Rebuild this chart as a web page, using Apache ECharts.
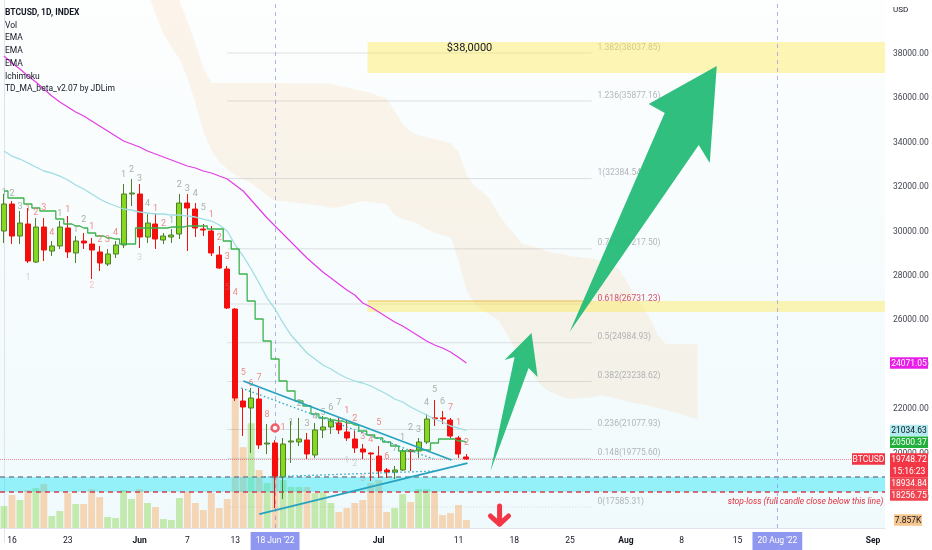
<!DOCTYPE html>
<html>
<head>
<meta charset="utf-8">
<title>BTCUSD 1D</title>
<script src="https://cdn.jsdelivr.net/npm/echarts@6.0.0/dist/echarts.min.js"></script>
<style>
html,body{margin:0;padding:0;background:#fff;}
#chart{width:932px;height:550px;}
</style>
</head>
<body>
<div id="chart"></div>
<script>
const FONT = 'Roboto, "Liberation Sans", Arial, sans-serif';

// ---------- categories (daily, 15 May 2022 .. 2 Sep 2022) ----------
const dates = [];
(function () {
  const t0 = Date.UTC(2022, 4, 15);
  for (let i = 0; i < 111; i++) dates.push(new Date(t0 + i * 86400000).toISOString().slice(0, 10));
})();

// ---------- candles [open, close, low, high] from 15 May to 12 Jul ----------
const candles = [
  [30020,31236,29479,31687],[31236,29794,29434,31371],[29794,30380,29434,30921],[30335,28668,28578,31056],
  [28623,30200,28578,30605],[30200,29164,28668,30605],[29119,29344,28893,29569],[29344,30200,29209,30470],
  [30155,29074,28803,30695],[29029,29569,28578,29794],[29569,29479,29209,29930],[29434,29164,27857,29704],
  [29074,28578,28218,29344],[28533,28983,28443,29209],[28983,29389,28803,29569],[29389,31687,29254,32137],
  [31687,31732,31146,32362],[31687,29749,29254,32137],[29749,30380,29479,30785],[30335,29659,29209,30830],
  [29614,29794,29434,29930],[29749,29839,29479,30110],[29884,31281,29659,31687],[31281,31056,29119,31687],
  [31011,30155,29749,31281],[30110,30065,29794,30335],[30020,29029,28893,30245],[28938,28353,28308,29344],
  [28308,26551,26506,28443],[26506,22496,22361,26551],[22361,22091,20785,22902],[22046,22496,20019,22947],
  [22451,20379,20199,22947],[20424,20470,19974,21325],[20470,18937,17541,20600],[18937,20424,17946,20695],
  [20515,20560,19568,21460],[20515,20650,20334,21595],[20605,19974,19748,20920],[19929,21055,19793,21370],
  [21055,21190,20695,21685],[21190,21460,20875,21595],[21370,21055,20875,21595],[20965,20695,20560,21460],
  [20650,20245,20019,21010],[20199,20064,19748,20424],[20019,19974,18757,20050],[19884,19208,18892,20334],
  [19253,19163,18892,19343],[19163,19253,18847,19434],[19253,20110,19208,20199],[20150,20080,19208,20199],
  [20110,20515,19793,20695],[20515,21550,20424,21776],[21600,21560,21235,22406],[21600,21560,21325,21911],
  [21505,20785,20695,21595],[20695,19974,19793,20785],[19839,19748.72,19703,19974]
];

// volume in thousands
const volumes = [21.6,32.4,27.5,37.3,39.3,43.2,11.8,16.7,34.4,23.6,23.6,38.3,30.4,10.8,9.8,37.3,28.5,38.3,24.6,20.6,
  8.8,7.9,29.5,35.4,24.6,17.7,34.4,19.6,28.5,128.6,79.5,103.1,57.0,44.2,71.7,47.1,40.3,40.3,40.3,34.4,
  35.4,24.6,15.7,19.6,24.6,27.5,44.2,47.1,15.7,19.6,33.4,25.5,38.3,38.3,36.3,12.8,14.7,22.6,7.857];

const emaSlow = [37903,37588,37318,37002,36732,36417,36101,35831,35606,35381,35200,34975,34750,34525,34300,34074,33939,33804,33624,33489,
  33354,33218,33083,32948,32858,32723,32633,32497,32362,32092,31822,31416,31011,30605,30245,29884,29524,29164,28803,28488,
  28173,27902,27632,27362,27136,26776,26596,26371,26145,25920,25740,25515,25290,25064,24884,24749,24569,24330,24071.05];
const emaFast = [33624,33398,33263,33083,32903,32723,32632,32497,32317,32092,31912,31687,31461,31281,31146,31011,30966,30876,30831,30786,
  30786,30740,30740,30695,30650,30560,30470,30290,30020,29389,28893,28308,27677,27001,26506,25875,25334,24929,24523,24253,
  23983,23803,23578,23397,23262,23172,23037,22857,22677,22451,22316,22091,21911,21731,21550,21415,21235,21145,21034.63];
const tdLine = [31822,31506,31506,31236,31056,30921,30921,30560,30335,30245,30155,29930,29794,29704,29659,29434,29434,30155,30155,30155,
  30155,30200,30200,30245,30245,30245,30110,30110,29569,29209,28082,26866,26055,25064,24253,23262,22812,22361,22136,21776,
  21595,21505,21460,21370,21280,21010,20830,20695,20515,20334,20109,20109,20154,20154,20469,20649,20649,20560,20500.37];

// Ichimoku cloud (category index of first point, then the two spans)
const cloudStart = 18;
const cloudUpper = [42500,42000,41500,41000,40381,39480,38489,37363,36687,36687,
  36687,36687,36687,36687,36687,36687,36687,36687,36665,36665,
  36665,36665,36665,36665,36552,36484,36417,36327,36237,36101,
  36011,35426,34840,34480,34345,34255,34164,34074,33984,33579,
  32588,32047,31777,31416,30786,30290,29885,29434,29344,29254,
  29119,29029,28984,28894,28849,28803,28758,28668,28488,28353,
  27812,27182,26641,26100,25334,24929,24929,24929,24929,24929];
const cloudLower = [40800,39796,38895,38309,37768,36958,35786,34525,33669,33128,
  32813,32542,32362,32182,31912,31596,31371,31371,31326,31281,
  31236,31191,31146,31056,31101,31191,31281,31371,31326,31281,
  31236,30740,30560,30470,30335,30110,29930,29840,29750,28713,
  27362,26731,26461,26235,26010,25425,24794,24298,23758,23217,
  22857,22722,22541,22451,22496,22496,22541,22632,22541,22451,
  22361,22271,22226,22136,22046,21956,21866,21776,21641,21550];

// TD sequential counts [date, price, text, kind]
const tdMarks = [
  ['2022-05-15',31732,'1','g'],['2022-05-16',31687,'2','g'],['2022-05-17',31101,'3','g'],['2022-05-18',31011,'1','r'],
  ['2022-05-19',30831,'2','r'],['2022-05-20',31056,'3','r'],['2022-05-21',29930,'4','r'],['2022-05-22',30786,'1','g'],
  ['2022-05-23',30966,'1','r'],['2022-05-24',30065,'1','g'],['2022-05-25',30515,'2','g'],['2022-05-26',30200,'1','r'],
  ['2022-05-27',29614,'2','r'],['2022-05-28',29614,'3','r'],['2022-05-29',29930,'4','r'],['2022-05-30',32543,'1','g'],
  ['2022-05-31',32768,'2','g'],['2022-06-01',32362,'3','g'],['2022-06-02',31236,'4','g'],['2022-06-03',31011,'1','r'],
  ['2022-06-04',30335,'2','r'],['2022-06-05',30470,'1','g'],['2022-06-06',32092,'2','g'],['2022-06-07',31912,'3','g'],
  ['2022-06-08',31687,'4','g'],['2022-06-09',31056,'5','g'],['2022-06-10',30741,'1','r'],['2022-06-11',29704,'2','r'],
  ['2022-06-12',28848,'3','r'],['2022-06-13',27227,'4','r'],['2022-06-14',23623,'5','r'],['2022-06-15',23127,'6','r'],
  ['2022-06-16',23397,'7','r'],['2022-06-17',21731,'8','r'],['2022-06-19',21145,'1','r'],['2022-06-20',21370,'1','g'],
  ['2022-06-21',22226,'2','g'],['2022-06-22',21325,'3','g'],['2022-06-23',21640,'4','g'],['2022-06-24',21820,'5','g'],
  ['2022-06-25',22046,'6','g'],['2022-06-26',22271,'7','g'],['2022-06-27',21911,'1','r'],['2022-06-28',21550,'2','r'],
  ['2022-06-29',20740,'3','r'],['2022-06-30',20605,'4','r'],['2022-07-01',21370,'5','r'],['2022-07-02',19838,'6','r'],
  ['2022-07-03',20199,'7','g'],['2022-07-04',20695,'1','g'],['2022-07-05',21145,'2','g'],['2022-07-06',21055,'3','g'],
  ['2022-07-07',22271,'4','g'],['2022-07-08',22857,'5','g'],['2022-07-09',22316,'6','g'],['2022-07-10',22046,'7','r'],
  ['2022-07-11',21370,'1','r'],['2022-07-12',20470,'2','r'],
  ['2022-05-18',27902,'1','lg'],['2022-05-26',27542,'2','lr'],['2022-06-01',28803,'3','lg'],['2022-06-12',27452,'5','lg'],
  ['2022-06-27',19658,'1','lg'],['2022-06-28',19523,'2','lg'],['2022-06-29',18847,'3','lr']
];
const tdNine = [['2022-06-18',21145]];

// Fibonacci levels
const fibRatios = ['1.382','1.236','1','0.786','0.618','0.5','0.382','0.236','0.148','0'];
const fibPrices = [38037.85,35877.16,32384.54,29217.50,26731.23,24984.93,23238.62,21077.93,19775.60,17585.31];
const fibSpan = [28, 73.7];

// zones [fromIdx, toIdx, low, high]
const yellowZones = [[45.6,110.5,37138,38535],[45.6,110.5,26371,26866]];
const keyLevelLine = [45.6, 73.7, 26866];
const supportLevels = [18934.84, 18256.75];

// trend lines [x1, p1, x2, p2, style]
const trendLines = [
  [30.01,23262,56.13,19703,'solid'],
  [29.76,22946,53.87,19748,'dotted'],
  [32.02,17270,58.14,19567,'solid'],
  [32.65,18937,53.99,19207,'dotted']
];

// arrows (polygon points as [index, price])
const arrowShapes = [
  [[61.02,19207],[64.04,24343],[62.78,24208],[66.17,25424],[66.93,23442],[65.80,23847]],
  [[70.94,25469],[82.87,35336],[80.86,35741],[89.40,37454],[88.52,33083],[87.14,33894]]
];
const downArrowPaths = [
  [[62.16,17630],[62.16,16819]],
  [[61.02,17180],[62.16,16819],[63.28,17180]]
];

const noteTexts = ['$38,0000', 'stop-loss (full candle close below this line)'];
const noteAnchors = [[58.39,38264],[110.3,17810]];

const crosshairDates = ['2022-06-18','2022-08-20'];
const xTickDates = ['2022-05-16','2022-05-23','2022-06-01','2022-06-07','2022-06-13','2022-06-18','2022-07-01','2022-07-11',
  '2022-07-18','2022-07-25','2022-08-01','2022-08-08','2022-08-15','2022-08-20','2022-09-01'];
const xTickLabels = ['16','23','Jun','7','13',"18 Jun '22",'Jul','11','18','25','Aug','8','15',"20 Aug '22",'Sep'];
const xTickKinds = ['n','n','b','n','n','h','b','n','n','n','b','n','n','h','b'];

const legendLines = ['BTCUSD, 1D, INDEX','Vol','EMA','EMA','EMA','Ichimoku','TD_MA_beta_v2.07 by JDLim'];
const countdown = '15:16:23';

// ---------- chart ----------
const chart = echarts.init(document.getElementById('chart'));
const markColors = {g:'#939e93', r:'#ef6b6b', lg:'rgba(150,156,150,0.5)', lr:'rgba(239,107,107,0.5)'};
const lastClose = candles[candles.length - 1][1];

function txtStyle(o) {
  const s = Object.assign({}, o);
  if (o.align) { s.textAlign = o.align; }
  if (o.verticalAlign) { s.textVerticalAlign = o.verticalAlign; }
  return s;
}

const option = {
  animation: false,
  backgroundColor: '#ffffff',
  grid: [
    {left: -1, right: 47, top: 0, bottom: 7.8, show: false},
    {left: -1, right: 47, top: 0, bottom: 21, show: true, borderWidth: 0,
      backgroundColor: new echarts.graphic.LinearGradient(0, 0, 0, 1, [
        {offset: 0, color: '#fdfefe'}, {offset: 1, color: '#f0fafc'}])}
  ],
  xAxis: [
    {type: 'category', gridIndex: 0, data: dates, show: false},
    {type: 'value', gridIndex: 0, min: -0.5, max: 110.5, show: false},
    {type: 'category', gridIndex: 1, data: dates,
      axisLine: {show: true, lineStyle: {color: '#e0e3eb'}}, axisTick: {show: false}, splitLine: {show: false},
      axisLabel: {
        margin: 4, fontSize: 8.5, fontFamily: FONT, color: '#131722',
        interval: (i, v) => xTickDates.indexOf(v) >= 0,
        formatter: (v) => {
          const k = xTickDates.indexOf(v);
          if (k < 0) return '';
          return '{' + xTickKinds[k] + '|' + xTickLabels[k] + '}';
        },
        rich: {
          n: {fontSize: 8.5, fontFamily: FONT, color: '#131722', padding: [4, 0, 5, 0]},
          b: {fontSize: 8.5, fontFamily: FONT, color: '#131722', fontWeight: 'bold', padding: [4, 0, 5, 0]},
          h: {fontSize: 8.5, fontFamily: FONT, color: '#ffffff', backgroundColor: '#8f97f0', padding: [4, 5, 5, 5]}
        }
      }}
  ],
  yAxis: [
    {type: 'value', gridIndex: 0, position: 'right', min: 16000, max: 40427, interval: 2000,
      axisLine: {show: true, lineStyle: {color: '#e0e3eb'}}, axisTick: {show: false}, splitLine: {show: false},
      axisLabel: {margin: 8, fontSize: 8.5, fontFamily: FONT, color: '#434651', showMaxLabel: false, showMinLabel: false,
        formatter: (v) => (v > 39000 || v < 17000) ? '' : v.toFixed(2)}},
    {type: 'value', gridIndex: 1, min: 0, max: 519.5, show: false}
  ],
  series: [
    {
      name: 'Vol', type: 'bar', xAxisIndex: 2, yAxisIndex: 1, z: 1, silent: true, barWidth: '86%',
      data: volumes.map((v, i) => ({value: v, itemStyle: {color: candles[i][1] >= candles[i][0] ? 'rgba(140,212,80,0.45)' : 'rgba(248,168,96,0.45)'}})),
      markLine: {silent: true, symbol: ['none', 'none'], label: {show: false},
        lineStyle: {type: [4, 4], width: 1},
        data: [
          {xAxis: crosshairDates[0], lineStyle: {color: 'rgba(110,130,190,0.55)', type: [4, 4], width: 1}},
          {xAxis: crosshairDates[1], lineStyle: {color: 'rgba(140,146,240,0.7)', type: [4, 4], width: 1}}
        ]}
    },
    {
      name: 'Ichimoku', type: 'custom', xAxisIndex: 1, yAxisIndex: 0, z: 1, clip: true, silent: true,
      data: [[0, 30000]],
      renderItem: (params, api) => {
        const pts = [];
        cloudUpper.forEach((v, k) => pts.push(api.coord([cloudStart + k, v])));
        for (let k = cloudLower.length - 1; k >= 0; k--) pts.push(api.coord([cloudStart + k, cloudLower[k]]));
        return {type: 'polygon', shape: {points: pts}, style: {fill: 'rgba(248,185,110,0.14)'}};
      }
    },
    {
      name: 'Fib', type: 'custom', xAxisIndex: 1, yAxisIndex: 0, z: 2, clip: true, silent: true,
      data: fibPrices.map((p, k) => [k, p]),
      renderItem: (params, api) => {
        const k = params.dataIndex, p = fibPrices[k];
        const a = api.coord([fibSpan[0], p]), b = api.coord([fibSpan[1], p]);
        const lab = api.coord([fibSpan[1] + 0.75, p]);
        const key = fibRatios[k] === '0.618';
        return {type: 'group', children: [
          {type: 'line', shape: {x1: a[0], y1: a[1], x2: b[0], y2: b[1]},
            style: {stroke: 'rgba(140,143,150,0.25)', lineWidth: 1, lineDash: fibRatios[k] === '0' ? [1, 2] : null}},
          {type: 'text', style: txtStyle({text: fibRatios[k] + '(' + p.toFixed(2) + ')', x: lab[0], y: a[1] - 1,
            fill: key ? '#d0546a' : 'rgba(140,143,152,0.65)', font: '8.5px ' + FONT, align: 'left', verticalAlign: 'bottom'})}
        ]};
      }
    },
    {
      name: 'Zones', type: 'custom', xAxisIndex: 1, yAxisIndex: 0, z: 2, clip: true, silent: true,
      data: yellowZones.map((z, k) => [k, z[2]]),
      renderItem: (params, api) => {
        const z = yellowZones[params.dataIndex];
        const a = api.coord([z[0], z[3]]), b = api.coord([z[1], z[2]]);
        const children = [{type: 'rect', shape: {x: a[0], y: a[1], width: b[0] - a[0], height: b[1] - a[1]},
          style: {fill: 'rgba(255,232,70,0.4)'}}];
        if (params.dataIndex === 1) {
          const p = api.coord([keyLevelLine[0], keyLevelLine[2]]), q = api.coord([keyLevelLine[1], keyLevelLine[2]]);
          children.push({type: 'line', shape: {x1: p[0], y1: p[1], x2: q[0], y2: q[1]}, style: {stroke: 'rgba(232,172,50,0.75)', lineWidth: 1.2}});
        }
        return {type: 'group', children};
      }
    },
    {
      name: 'Support', type: 'custom', xAxisIndex: 1, yAxisIndex: 0, z: 3, clip: true, silent: true,
      data: [[0, supportLevels[0]]],
      renderItem: (params, api) => {
        const a = api.coord([-0.5, supportLevels[0]]), b = api.coord([110.5, supportLevels[1]]);
        return {type: 'group', children: [
          {type: 'rect', shape: {x: a[0], y: a[1], width: b[0] - a[0], height: b[1] - a[1]}, style: {fill: 'rgba(0,226,245,0.38)'}},
          {type: 'line', shape: {x1: a[0], y1: a[1], x2: b[0], y2: a[1]}, style: {stroke: '#80838f', lineWidth: 1.5, lineDash: [5, 4]}},
          {type: 'line', shape: {x1: a[0], y1: b[1], x2: b[0], y2: b[1]}, style: {stroke: '#d23f4c', lineWidth: 1.5, lineDash: [5, 4]}}
        ]};
      }
    },
    {
      name: 'BTCUSD', type: 'candlestick', xAxisIndex: 0, yAxisIndex: 0, z: 5, silent: true, barWidth: 5.5,
      data: candles,
      itemStyle: {color: '#86d81e', color0: '#f40f0f', borderColor: '#4f7f2a', borderColor0: '#f40f0f', borderWidth: 1},
      markLine: {silent: true, symbol: ['none', 'none'], label: {show: false},
        lineStyle: {color: 'rgba(242,54,69,0.55)', type: 'dotted', width: 1},
        data: [{yAxis: lastClose}]}
    },
    {name: 'EMA slow', type: 'line', xAxisIndex: 0, yAxisIndex: 0, z: 6, silent: true, symbol: 'none',
      data: emaSlow, lineStyle: {color: '#e23de6', width: 1.2}},
    {name: 'EMA fast', type: 'line', xAxisIndex: 0, yAxisIndex: 0, z: 6, silent: true, symbol: 'none',
      data: emaFast, lineStyle: {color: '#9fdde2', width: 1.3}},
    {name: 'TD_MA', type: 'line', xAxisIndex: 0, yAxisIndex: 0, z: 6, silent: true, symbol: 'none', step: 'middle',
      data: tdLine, lineStyle: {color: '#3bb24e', width: 1.3}},
    {
      name: 'TD counts', type: 'scatter', xAxisIndex: 0, yAxisIndex: 0, z: 7, silent: true, symbolSize: 0.1,
      itemStyle: {color: 'rgba(0,0,0,0)'},
      label: {show: true, position: 'inside', fontSize: 9, fontFamily: FONT},
      data: tdMarks.map(m => ({value: [m[0], m[1]], label: {formatter: m[2], color: markColors[m[3]]}}))
    },
    {
      name: 'TD nine', type: 'scatter', xAxisIndex: 0, yAxisIndex: 0, z: 7, silent: true, symbol: 'circle', symbolSize: 7,
      itemStyle: {color: '#ffffff', borderColor: '#f23645', borderWidth: 2.5},
      data: tdNine
    },
    {
      name: 'Trend lines', type: 'custom', xAxisIndex: 1, yAxisIndex: 0, z: 8, clip: true, silent: true,
      data: trendLines.map((t, k) => [k, t[1]]),
      renderItem: (params, api) => {
        const t = trendLines[params.dataIndex];
        const a = api.coord([t[0], t[1]]), b = api.coord([t[2], t[3]]);
        const dotted = t[4] === 'dotted';
        return {type: 'line', shape: {x1: a[0], y1: a[1], x2: b[0], y2: b[1]},
          style: {stroke: '#27a3bf', lineWidth: dotted ? 1.3 : 1.8, lineDash: dotted ? [1.5, 2.5] : null}};
      }
    },
    {
      name: 'Arrows', type: 'custom', xAxisIndex: 1, yAxisIndex: 0, z: 9, clip: true, silent: true,
      data: arrowShapes.map((s, k) => [k, s[0][1]]),
      renderItem: (params, api) => {
        const pts = arrowShapes[params.dataIndex].map(p => api.coord(p));
        return {type: 'polygon', shape: {points: pts}, style: {fill: 'rgba(38,188,120,0.95)'}};
      }
    },
    {
      name: 'Down arrow', type: 'custom', xAxisIndex: 1, yAxisIndex: 0, z: 9, clip: false, silent: true,
      data: downArrowPaths.map((s, k) => [k, s[0][1]]),
      renderItem: (params, api) => {
        const pts = downArrowPaths[params.dataIndex].map(p => api.coord(p));
        return {type: 'polyline', shape: {points: pts},
          style: {stroke: '#f23645', lineWidth: 5, lineCap: 'round', lineJoin: 'round', fill: null}};
      }
    },
    {
      name: 'Notes', type: 'custom', xAxisIndex: 1, yAxisIndex: 0, z: 9, clip: false, silent: true,
      data: noteTexts.map((t, k) => [k, noteAnchors[k][1]]),
      renderItem: (params, api) => {
        const k = params.dataIndex;
        const p = api.coord(noteAnchors[k]);
        const st = k === 0
          ? {text: noteTexts[k], x: p[0], y: p[1], fill: '#131722', font: '11px ' + FONT, align: 'center', verticalAlign: 'middle'}
          : {text: noteTexts[k], x: p[0], y: p[1], fill: '#e3323f', font: 'italic 8.5px ' + FONT, align: 'right', verticalAlign: 'middle'};
        return {type: 'text', style: txtStyle(st)};
      }
    }
  ]
};

chart.setOption(option);

// ---------- price-scale tags placed through the axes ----------
const rightEdge = chart.convertToPixel({xAxisIndex: 1}, 110.5);
const py = (v) => chart.convertToPixel({yAxisIndex: 0}, v);
const tagX = rightEdge + 5, tagW = 38, tagH = 11.5;
const tagDefs = [
  {v: emaSlow[emaSlow.length - 1], bg: '#e91ee8', fg: '#ffffff'},
  {v: emaFast[emaFast.length - 1], bg: '#b2ebf2', fg: '#131722'},
  {v: tdLine[tdLine.length - 1], bg: '#22b03c', fg: '#ffffff'},
  {v: lastClose, bg: '#f23645', fg: '#ffffff', extra: countdown},
  {v: supportLevels[0], bg: '#f04551', fg: '#ffffff'},
  {v: supportLevels[1], bg: '#f04551', fg: '#ffffff'}
];
const graphics = [];
let prevBottom = -1e9;
tagDefs.map(t => Object.assign({y: py(t.v)}, t)).sort((a, b) => a.y - b.y).forEach(t => {
  const h = t.extra ? tagH * 2 + 1.5 : tagH;
  let top = Math.max(t.y - tagH / 2, prevBottom);
  prevBottom = top + h;
  graphics.push({type: 'rect', z: 100, shape: {x: tagX, y: top, width: tagW, height: h}, style: {fill: t.bg}});
  graphics.push({type: 'text', z: 101, style: txtStyle({text: t.v.toFixed(2), x: tagX + tagW / 2, y: top + tagH / 2 + 0.5,
    fill: t.fg, font: '8.5px ' + FONT, align: 'center', verticalAlign: 'middle'})});
  if (t.extra) {
    graphics.push({type: 'text', z: 101, style: txtStyle({text: t.extra, x: tagX + tagW / 2, y: top + tagH * 1.5 + 1.5,
      fill: t.fg, font: '8.5px ' + FONT, align: 'center', verticalAlign: 'middle'})});
    graphics.push({type: 'rect', z: 100, shape: {x: rightEdge - 33, y: top, width: 33, height: tagH}, style: {fill: '#f23645'}});
    graphics.push({type: 'text', z: 101, style: txtStyle({text: 'BTCUSD', x: rightEdge - 16.5, y: top + tagH / 2 + 0.5,
      fill: '#ffffff', font: '8.5px ' + FONT, align: 'center', verticalAlign: 'middle'})});
  }
});
// volume tag
const vLast = volumes[volumes.length - 1];
const vy = chart.convertToPixel({yAxisIndex: 1}, vLast);
graphics.push({type: 'rect', z: 100, shape: {x: tagX + 4, y: vy - tagH / 2, width: 28, height: tagH}, style: {fill: '#f7c68e'}});
graphics.push({type: 'text', z: 101, style: txtStyle({text: vLast.toFixed(3) + 'K', x: tagX + 18, y: vy + 0.5,
  fill: '#131722', font: '8.5px ' + FONT, align: 'center', verticalAlign: 'middle'})});
// legend + currency
legendLines.forEach((t, k) => {
  graphics.push({type: 'text', z: 101, style: txtStyle({text: t, x: 5, y: 12.7 + k * 12.75,
    fill: '#131722', font: (k === 0 ? 'bold ' : '') + '8.5px ' + FONT, align: 'left', verticalAlign: 'middle'})});
});
graphics.push({type: 'text', z: 101, style: txtStyle({text: 'USD', x: rightEdge + 8, y: 10,
  fill: '#131722', font: '8px ' + FONT, align: 'left', verticalAlign: 'middle'})});

chart.setOption({graphic: graphics});
</script>
</body>
</html>
